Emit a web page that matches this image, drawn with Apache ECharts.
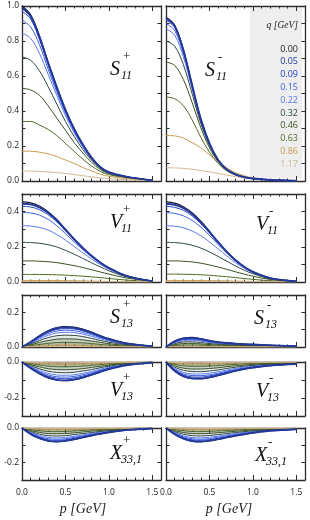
<!DOCTYPE html>
<html><head><meta charset="utf-8">
<script src="https://cdn.jsdelivr.net/npm/echarts@6/dist/echarts.min.js"></script>
<style>html,body{margin:0;padding:0;background:#fff}#c{width:310px;height:520px}</style>
</head><body><div id="c"></div>
<script>
// momentum grid p [GeV]
const P = [0,0.1,0.2,0.3,0.4,0.5,0.6,0.7,0.8,0.9,1.0,1.2,1.5];
// q values (legend)
const Q_LABELS = ['0.00','0.05','0.09','0.15','0.22','0.32','0.46','0.63','0.86','1.17'];
const Q_COLORS = ['#1a1b33','#22389c','#2a45c2','#3d5fe0','#5a78ec','#2f4747','#3a5220','#4f6a2a','#c99a55','#d1b896'];
const X_TICKS = ['0.0','0.5','1.0','1.5'];

// S11 plus : one row per q
const S11_PLUS = [
 [1.0,0.95,0.83,0.68,0.54,0.41,0.30,0.21,0.135,0.08,0.05,0.025,0.003],
 [0.99,0.94,0.825,0.675,0.535,0.405,0.297,0.208,0.134,0.08,0.05,0.025,0.003],
 [0.97,0.925,0.81,0.665,0.525,0.40,0.293,0.205,0.132,0.079,0.05,0.025,0.003],
 [0.92,0.88,0.78,0.64,0.51,0.39,0.285,0.20,0.13,0.078,0.049,0.024,0.003],
 [0.845,0.815,0.73,0.61,0.49,0.375,0.275,0.193,0.126,0.076,0.048,0.024,0.003],
 [0.71,0.69,0.63,0.54,0.44,0.34,0.255,0.18,0.12,0.073,0.046,0.023,0.003],
 [0.53,0.52,0.49,0.43,0.36,0.29,0.22,0.16,0.107,0.066,0.042,0.021,0.003],
 [0.34,0.34,0.32,0.295,0.26,0.215,0.17,0.125,0.086,0.055,0.036,0.018,0.002],
 [0.17,0.17,0.165,0.155,0.14,0.12,0.10,0.078,0.057,0.039,0.027,0.014,0.002],
 [0.057,0.057,0.055,0.052,0.048,0.043,0.037,0.03,0.024,0.018,0.013,0.007,0.001]
];
const S11_MINUS = [
 [0.935,0.89,0.75,0.55,0.355,0.215,0.12,0.066,0.038,0.022,0.014,0.006,0.002],
 [0.93,0.885,0.747,0.549,0.355,0.215,0.12,0.066,0.038,0.022,0.014,0.006,0.002],
 [0.92,0.877,0.742,0.546,0.353,0.214,0.12,0.066,0.038,0.022,0.014,0.006,0.002],
 [0.90,0.86,0.73,0.54,0.35,0.213,0.119,0.065,0.038,0.022,0.014,0.006,0.002],
 [0.87,0.833,0.71,0.528,0.344,0.21,0.118,0.065,0.037,0.022,0.014,0.006,0.002],
 [0.80,0.77,0.665,0.50,0.33,0.203,0.115,0.064,0.037,0.021,0.014,0.006,0.002],
 [0.68,0.66,0.58,0.45,0.305,0.19,0.11,0.062,0.036,0.021,0.013,0.006,0.002],
 [0.48,0.47,0.43,0.35,0.25,0.165,0.10,0.058,0.034,0.02,0.013,0.006,0.002],
 [0.26,0.258,0.245,0.22,0.19,0.15,0.11,0.075,0.048,0.03,0.018,0.007,0.002],
 [0.076,0.075,0.072,0.067,0.06,0.052,0.043,0.034,0.025,0.018,0.012,0.005,0.001]
];
const V11_PLUS = [
 [0.455,0.45,0.432,0.40,0.355,0.30,0.245,0.195,0.15,0.112,0.08,0.035,0.005],
 [0.445,0.441,0.424,0.393,0.35,0.297,0.243,0.194,0.149,0.111,0.08,0.035,0.005],
 [0.43,0.426,0.411,0.383,0.342,0.291,0.239,0.191,0.147,0.11,0.079,0.035,0.005],
 [0.395,0.392,0.38,0.356,0.32,0.275,0.228,0.184,0.143,0.107,0.077,0.034,0.005],
 [0.32,0.318,0.31,0.295,0.27,0.238,0.202,0.166,0.131,0.1,0.073,0.033,0.005],
 [0.225,0.224,0.22,0.212,0.199,0.18,0.158,0.134,0.109,0.086,0.064,0.03,0.005],
 [0.12,0.12,0.118,0.115,0.11,0.102,0.093,0.082,0.07,0.057,0.045,0.023,0.004],
 [0.043,0.043,0.043,0.042,0.041,0.039,0.036,0.033,0.029,0.025,0.02,0.011,0.002],
 [0.008,0.008,0.008,0.008,0.008,0.007,0.007,0.006,0.005,0.004,0.003,0.002,0.001],
 [0.002,0.002,0.002,0.002,0.002,0.002,0.002,0.002,0.001,0.001,0.001,0.001,0]
];
const V11_MINUS = [
 [0.455,0.448,0.428,0.393,0.345,0.288,0.228,0.172,0.125,0.087,0.058,0.022,0.003],
 [0.445,0.439,0.42,0.387,0.34,0.285,0.226,0.171,0.124,0.087,0.058,0.022,0.003],
 [0.43,0.424,0.407,0.376,0.332,0.279,0.222,0.169,0.123,0.086,0.057,0.022,0.003],
 [0.395,0.39,0.376,0.35,0.312,0.265,0.213,0.164,0.12,0.084,0.056,0.021,0.003],
 [0.32,0.317,0.308,0.29,0.263,0.228,0.188,0.148,0.11,0.078,0.053,0.02,0.003],
 [0.225,0.224,0.219,0.209,0.193,0.171,0.145,0.118,0.091,0.067,0.047,0.019,0.003],
 [0.12,0.12,0.118,0.114,0.107,0.097,0.085,0.072,0.058,0.045,0.033,0.014,0.002],
 [0.045,0.045,0.044,0.043,0.041,0.038,0.034,0.03,0.025,0.02,0.015,0.007,0.001],
 [0.008,0.008,0.008,0.008,0.008,0.007,0.007,0.006,0.005,0.004,0.003,0.002,0.001],
 [0.002,0.002,0.002,0.002,0.002,0.002,0.002,0.002,0.001,0.001,0.001,0.001,0]
];
const S13_PLUS = [
 [0,0.03,0.065,0.094,0.112,0.118,0.115,0.103,0.086,0.066,0.048,0.022,0.004],
 [0,0.029,0.062,0.09,0.108,0.113,0.11,0.099,0.083,0.063,0.046,0.021,0.004],
 [0,0.027,0.058,0.085,0.101,0.106,0.104,0.093,0.077,0.059,0.043,0.02,0.004],
 [0,0.024,0.053,0.077,0.092,0.097,0.094,0.084,0.071,0.054,0.039,0.018,0.003],
 [0,0.021,0.046,0.067,0.081,0.085,0.083,0.074,0.062,0.048,0.035,0.016,0.003],
 [0,0.017,0.037,0.054,0.065,0.068,0.067,0.06,0.05,0.038,0.028,0.013,0.002],
 [0,0.012,0.026,0.037,0.045,0.047,0.046,0.041,0.034,0.027,0.019,0.009,0.002],
 [0,0.007,0.015,0.021,0.026,0.027,0.026,0.024,0.02,0.015,0.011,0.005,0.001],
 [0,0.003,0.006,0.008,0.01,0.011,0.01,0.009,0.008,0.006,0.004,0.002,0],
 [0,0.001,0.002,0.002,0.003,0.003,0.003,0.002,0.002,0.002,0.001,0.001,0]
];
const S13_MINUS = [
 [0,0.035,0.052,0.055,0.048,0.037,0.029,0.024,0.02,0.017,0.015,0.01,0.004],
 [0,0.033,0.049,0.052,0.046,0.035,0.028,0.023,0.019,0.016,0.014,0.01,0.004],
 [0,0.031,0.046,0.048,0.042,0.033,0.026,0.021,0.018,0.015,0.013,0.009,0.004],
 [0,0.028,0.042,0.044,0.038,0.03,0.023,0.019,0.016,0.014,0.012,0.008,0.003],
 [0,0.025,0.036,0.039,0.034,0.026,0.02,0.017,0.014,0.012,0.011,0.007,0.003],
 [0,0.019,0.029,0.03,0.026,0.02,0.016,0.013,0.011,0.009,0.008,0.006,0.002],
 [0,0.013,0.02,0.021,0.018,0.014,0.011,0.009,0.008,0.006,0.006,0.004,0.002],
 [0,0.008,0.011,0.012,0.011,0.008,0.006,0.005,0.004,0.004,0.003,0.002,0.001],
 [0,0.003,0.004,0.004,0.004,0.003,0.002,0.002,0.002,0.001,0.001,0.001,0],
 [0,0.001,0.001,0.001,0.001,0.001,0.001,0,0,0,0,0,0]
];
const V13_PLUS = [
 [0,-0.035,-0.065,-0.088,-0.1,-0.103,-0.098,-0.087,-0.072,-0.056,-0.04,-0.018,-0.003],
 [0,-0.034,-0.063,-0.086,-0.099,-0.102,-0.097,-0.086,-0.071,-0.055,-0.039,-0.018,-0.003],
 [0,-0.032,-0.059,-0.079,-0.09,-0.093,-0.088,-0.078,-0.065,-0.05,-0.036,-0.016,-0.003],
 [0,-0.029,-0.053,-0.072,-0.082,-0.084,-0.08,-0.071,-0.059,-0.046,-0.033,-0.015,-0.002],
 [0,-0.025,-0.047,-0.063,-0.072,-0.074,-0.071,-0.063,-0.052,-0.04,-0.029,-0.013,-0.002],
 [0,-0.02,-0.038,-0.051,-0.058,-0.06,-0.057,-0.05,-0.042,-0.032,-0.023,-0.01,-0.002],
 [0,-0.015,-0.027,-0.037,-0.042,-0.043,-0.041,-0.037,-0.03,-0.024,-0.017,-0.008,-0.001],
 [0,-0.009,-0.017,-0.023,-0.026,-0.027,-0.025,-0.023,-0.019,-0.015,-0.01,-0.005,-0.001],
 [0,-0.004,-0.008,-0.011,-0.012,-0.012,-0.012,-0.01,-0.009,-0.007,-0.005,-0.002,0],
 [0,-0.001,-0.003,-0.004,-0.004,-0.004,-0.004,-0.003,-0.003,-0.002,-0.002,-0.001,0]
];
const V13_MINUS = [
 [0,-0.05,-0.08,-0.092,-0.093,-0.086,-0.075,-0.062,-0.05,-0.04,-0.031,-0.02,-0.012],
 [0,-0.049,-0.079,-0.091,-0.092,-0.085,-0.074,-0.061,-0.049,-0.039,-0.031,-0.02,-0.012],
 [0,-0.045,-0.072,-0.083,-0.084,-0.077,-0.068,-0.056,-0.045,-0.036,-0.028,-0.018,-0.011],
 [0,-0.041,-0.066,-0.075,-0.076,-0.071,-0.062,-0.051,-0.041,-0.033,-0.025,-0.016,-0.01],
 [0,-0.036,-0.058,-0.066,-0.067,-0.062,-0.054,-0.045,-0.036,-0.029,-0.022,-0.014,-0.009],
 [0,-0.029,-0.046,-0.053,-0.054,-0.05,-0.044,-0.036,-0.029,-0.023,-0.018,-0.012,-0.007],
 [0,-0.021,-0.034,-0.039,-0.039,-0.036,-0.032,-0.026,-0.021,-0.017,-0.013,-0.008,-0.005],
 [0,-0.013,-0.021,-0.024,-0.024,-0.022,-0.02,-0.016,-0.013,-0.01,-0.008,-0.005,-0.003],
 [0,-0.006,-0.01,-0.011,-0.011,-0.01,-0.009,-0.007,-0.006,-0.005,-0.004,-0.002,-0.001],
 [0,-0.002,-0.003,-0.004,-0.004,-0.003,-0.003,-0.002,-0.002,-0.002,-0.001,-0.001,0]
];
const X331_PLUS = [
 [0,-0.035,-0.06,-0.075,-0.079,-0.075,-0.066,-0.055,-0.044,-0.034,-0.025,-0.012,-0.003],
 [0,-0.035,-0.059,-0.074,-0.078,-0.074,-0.065,-0.054,-0.043,-0.034,-0.025,-0.012,-0.003],
 [0,-0.032,-0.054,-0.068,-0.071,-0.068,-0.059,-0.05,-0.04,-0.031,-0.023,-0.011,-0.003],
 [0,-0.029,-0.049,-0.062,-0.065,-0.062,-0.054,-0.045,-0.036,-0.028,-0.021,-0.01,-0.002],
 [0,-0.025,-0.043,-0.054,-0.057,-0.054,-0.048,-0.04,-0.032,-0.024,-0.018,-0.009,-0.002],
 [0,-0.02,-0.035,-0.044,-0.046,-0.044,-0.038,-0.032,-0.026,-0.02,-0.015,-0.007,-0.002],
 [0,-0.015,-0.025,-0.032,-0.033,-0.032,-0.028,-0.023,-0.018,-0.014,-0.011,-0.005,-0.001],
 [0,-0.009,-0.016,-0.02,-0.021,-0.02,-0.017,-0.014,-0.011,-0.009,-0.007,-0.003,-0.001],
 [0,-0.004,-0.007,-0.009,-0.009,-0.009,-0.008,-0.007,-0.005,-0.004,-0.003,-0.001,0],
 [0,-0.001,-0.002,-0.003,-0.003,-0.003,-0.003,-0.002,-0.002,-0.001,-0.001,0,0]
];
const X331_MINUS = [
 [0,-0.036,-0.062,-0.076,-0.079,-0.074,-0.065,-0.055,-0.045,-0.036,-0.028,-0.016,-0.007],
 [0,-0.036,-0.061,-0.075,-0.078,-0.073,-0.064,-0.054,-0.044,-0.036,-0.028,-0.016,-0.007],
 [0,-0.032,-0.056,-0.068,-0.071,-0.067,-0.059,-0.05,-0.041,-0.032,-0.025,-0.014,-0.006],
 [0,-0.03,-0.051,-0.062,-0.065,-0.061,-0.053,-0.045,-0.037,-0.03,-0.023,-0.013,-0.006],
 [0,-0.026,-0.045,-0.055,-0.057,-0.053,-0.047,-0.04,-0.032,-0.026,-0.02,-0.012,-0.005],
 [0,-0.021,-0.036,-0.044,-0.046,-0.043,-0.038,-0.032,-0.026,-0.021,-0.016,-0.009,-0.004],
 [0,-0.015,-0.026,-0.032,-0.033,-0.031,-0.027,-0.023,-0.019,-0.015,-0.012,-0.007,-0.003],
 [0,-0.009,-0.016,-0.02,-0.021,-0.019,-0.017,-0.014,-0.012,-0.009,-0.007,-0.004,-0.002],
 [0,-0.004,-0.007,-0.009,-0.009,-0.009,-0.008,-0.007,-0.005,-0.004,-0.003,-0.002,-0.001],
 [0,-0.001,-0.002,-0.003,-0.003,-0.003,-0.003,-0.002,-0.002,-0.001,-0.001,-0.001,0]
];

// ---------- layout ----------
const COLS = [{left:22,width:139},{left:166,width:139}];
const ROWS = [
 {top:6,height:175,min:0,max:1.0},
 {top:194,height:88,min:0,max:0.5},
 {top:295,height:52,min:0,max:0.3},
 {top:362,height:54,min:-0.3,max:0},
 {top:428,height:52,min:-0.3,max:0}
];
const PANELS = [
 {data:S11_PLUS,row:0,col:0,L:'S',sub:'11',sup:'+',ax:110,ay:70},
 {data:S11_MINUS,row:0,col:1,L:'S',sub:'11',sup:'-',ax:205,ay:71},
 {data:V11_PLUS,row:1,col:0,L:'V',sub:'11',sup:'+',ax:110,ay:223},
 {data:V11_MINUS,row:1,col:1,L:'V',sub:'11',sup:'-',ax:256,ay:225},
 {data:S13_PLUS,row:2,col:0,L:'S',sub:'13',sup:'+',ax:110,ay:318},
 {data:S13_MINUS,row:2,col:1,L:'S',sub:'13',sup:'-',ax:254,ay:319},
 {data:V13_PLUS,row:3,col:0,L:'V',sub:'13',sup:'+',ax:110,ay:391},
 {data:V13_MINUS,row:3,col:1,L:'V',sub:'13',sup:'-',ax:256,ay:392},
 {data:X331_PLUS,row:4,col:0,L:'X',sub:'33,1',sup:'+',ax:110,ay:454},
 {data:X331_MINUS,row:4,col:1,L:'X',sub:'33,1',sup:'-',ax:255,ay:456}
];
const LINE_W = [1.2,1.9,1,1,1,1,1,1,1,1];
const FILL_OP = [0,0,0,0,0,0.12,0.18,0.22,0.32,0.45];

const AX = '#2b2b2b';
const LBL = {fontFamily:'Open Sans',fontSize:8.5,color:'#222'};
const SERIF = '"Liberation Serif", "DejaVu Serif", serif';

const grid=[], xAxis=[], yAxis=[], series=[], graphic=[];
function fmtX(v){ const s=v.toFixed(1); return X_TICKS.indexOf(s)>=0 && Math.abs(v*2-Math.round(v*2))<1e-6 ? s : ''; }
function fmtY(v){ const k=Math.round(v*10); return (Math.abs(k)%2===0 && Math.abs(v*10-k)<1e-6) ? (k===0?'0.0':(k/10).toFixed(1)) : ''; }

PANELS.forEach((pn,gi)=>{
  const r=ROWS[pn.row], c=COLS[pn.col];
  grid.push({left:c.left,top:r.top,width:c.width,height:r.height,containLabel:false});
  const last = pn.row===ROWS.length-1;
  const base = {type:'value',gridIndex:gi,min:0,max:1.6,splitLine:{show:false}};
  xAxis.push(Object.assign({},base,{position:'bottom',interval:0.5,
    axisLine:{show:true,onZero:false,lineStyle:{color:AX,width:1.3}},
    axisTick:{show:true,inside:true,length:5,lineStyle:{color:AX,width:1}},
    axisLabel:{show:last,margin:8,formatter:fmtX,...LBL}}));
  xAxis.push(Object.assign({},base,{position:'bottom',interval:0.1,
    axisLine:{show:false,onZero:false},
    axisTick:{show:true,inside:true,length:2.5,lineStyle:{color:AX,width:1}},
    axisLabel:{show:false}}));
  xAxis.push(Object.assign({},base,{position:'top',interval:0.5,
    axisLine:{show:true,onZero:false,lineStyle:{color:AX,width:1.3}},
    axisTick:{show:true,inside:true,length:5,lineStyle:{color:AX,width:1}},
    axisLabel:{show:false}}));
  xAxis.push(Object.assign({},base,{position:'top',interval:0.1,
    axisLine:{show:false,onZero:false},
    axisTick:{show:true,inside:true,length:2.5,lineStyle:{color:AX,width:1}},
    axisLabel:{show:false}}));
  const yb = {type:'value',gridIndex:gi,min:r.min,max:r.max,interval:0.1,splitLine:{show:false}};
  yAxis.push(Object.assign({},yb,{position:'left',
    axisLine:{show:true,onZero:false,lineStyle:{color:AX,width:1.3}},
    axisTick:{show:true,inside:true,length:3.5,lineStyle:{color:AX,width:1}},
    axisLabel:{show:pn.col===0,margin:3,formatter:fmtY,...LBL}}));
  yAxis.push(Object.assign({},yb,{position:'right',
    axisLine:{show:true,onZero:false,lineStyle:{color:AX,width:1.3}},
    axisTick:{show:true,inside:true,length:3.5,lineStyle:{color:AX,width:1}},
    axisLabel:{show:false}}));
  pn.data.forEach((vals,qi)=>{
    const s={type:'line',name:Q_LABELS[qi],xAxisIndex:gi*4,yAxisIndex:gi*2,
      data:P.map((p,i)=>[p,vals[i]]),smooth:0.35,showSymbol:false,symbol:'none',silent:true,
      lineStyle:{color:Q_COLORS[qi],width:LINE_W[qi]},z:qi===1?4:(qi===0?3:2)};
    const fill = pn.row>=2 || (pn.row===1 && qi>=8);
    if(fill && FILL_OP[qi]>0) s.areaStyle={color:Q_COLORS[qi],opacity:FILL_OP[qi]};
    series.push(s);
  });
  // panel label
  graphic.push({type:'text',x:pn.ax,y:pn.ay,z:10,style:{text:pn.L,font:'italic 20px '+SERIF,fill:'#111',align:'left',verticalAlign:'middle'}});
  graphic.push({type:'text',x:pn.ax+11,y:pn.ay+6,z:10,style:{text:pn.sub,font:'italic 12px '+SERIF,fill:'#111',align:'left',verticalAlign:'middle'}});
  graphic.push({type:'text',x:pn.ax+13,y:pn.ay-13,z:10,style:{text:pn.sup,font:'13px '+SERIF,fill:'#111',align:'left',verticalAlign:'middle'}});
});

// legend box
graphic.push({type:'rect',shape:{x:250,y:8,width:52,height:170},style:{fill:'#eeeeee'},z:-1,silent:true});
graphic.push({type:'text',x:298,y:25,z:10,style:{text:'q [GeV]',font:'italic 9.5px '+SERIF,fill:'#222',align:'right',verticalAlign:'middle'}});
Q_LABELS.forEach((q,i)=>{
  graphic.push({type:'text',x:298,y:49+12.8*i,z:10,style:{text:q,font:'9px "Open Sans"',fill:(i===0?'#222':Q_COLORS[i]),align:'right',verticalAlign:'middle'}});
});
// x axis titles
[[83,509],[229,509]].forEach(([x,y])=>{
  graphic.push({type:'text',x:x,y:y,z:10,style:{text:'p [GeV]',font:'italic 14px '+SERIF,fill:'#222',align:'center',verticalAlign:'middle'}});
});

const chart = echarts.init(document.getElementById('c'),null,{renderer:'canvas'});
chart.setOption({animation:false,backgroundColor:'#fff',grid,xAxis,yAxis,series,graphic});
</script></body></html>
